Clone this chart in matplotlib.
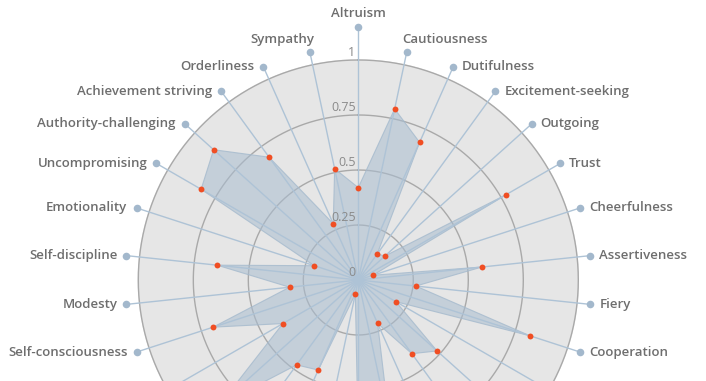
"""Radar chart: personality facet scores (30 axes, top part of the circle)."""

import numpy as np
import matplotlib.pyplot as plt

# axes, clockwise from the top
FACETS = [
    "Altruism", "Cautiousness", "Dutifulness", "Excitement-seeking",
    "Outgoing", "Trust", "Cheerfulness", "Assertiveness", "Fiery",
    "Cooperation", "Self-efficacy", "Imagination", "Intellect",
    "Gregariousness", "Activity level", "Adventurousness", "Melancholy",
    "Prone to worry", "Artistic interests", "Immoderation",
    "Susceptible to stress", "Self-consciousness", "Modesty",
    "Self-discipline", "Emotionality", "Uncompromising",
    "Authority-challenging", "Achievement striving", "Orderliness",
    "Sympathy",
]
SCORES = [
    0.42, 0.795, 0.685, 0.146,
    0.163, 0.776, 0.07, 0.565, 0.263,
    0.82, 0.197, 0.482, 0.414,
    0.216, 0.70, 0.75, 0.065,
    0.448, 0.477, 0.85,
    0.396, 0.694, 0.314,
    0.645, 0.21, 0.825,
    0.885, 0.69, 0.28,
    0.517,
]
RINGS = [0.25, 0.5, 0.75, 1.0]
RING_LABELS = ["0.25", "0.5", "0.75", "1"]

BG = "#e6e6e6"
RING_COLOR = "#a9a9a9"
SPOKE_COLOR = "#aec3d6"
FILL_COLOR = "#a9bdd0"
DOT_COLOR = "#f04e23"
LABEL_COLOR = "#6e6e6e"
FONT = ["Open Sans", "DejaVu Sans"]

W, H, DPI = 706, 381, 100
CX, CY = 358.3, 280.0   # centre in pixels (from top)
PX_PER_UNIT = 220.0
RMAX = 1.2

fig = plt.figure(figsize=(W / DPI, H / DPI), dpi=DPI)
rad_px = RMAX * PX_PER_UNIT
ax = fig.add_axes([(CX - rad_px) / W, (H - CY - rad_px) / H,
                   2 * rad_px / W, 2 * rad_px / H], projection="polar")
ax.set_theta_zero_location("N")
ax.set_theta_direction(-1)
ax.set_ylim(0, RMAX)
ax.set_axis_off()

n = len(FACETS)
theta = np.arange(n) * 2 * np.pi / n
full = np.linspace(0, 2 * np.pi, 361)

# background disk and rings
ax.fill_between(full, 0, 1.0, color=BG, zorder=0)
for r in RINGS:
    ax.plot(full, np.full_like(full, r), color=RING_COLOR, lw=1.0, zorder=1)

# data area
th_c = np.append(theta, theta[0])
sc_c = np.append(SCORES, SCORES[0])
ax.fill(th_c, sc_c, color=FILL_COLOR, alpha=0.55, lw=0, zorder=2)
ax.plot(th_c, sc_c, color="#a5bacd", lw=0.8, alpha=0.8, zorder=2)

# spokes with end markers and labels
for i, (t, name) in enumerate(zip(theta, FACETS)):
    r_end = 1.15 if i == 0 else 1.06
    ax.plot([t, t], [0, r_end], color=SPOKE_COLOR, lw=1.0, zorder=3)
    ax.scatter([t], [r_end], s=30, color="#a3b8cc", zorder=4, lw=0)
    # labels of the lower axes fall below the picture
    if CY - np.cos(t) * r_end * PX_PER_UNIT > H:
        continue
    deg = np.degrees(t)
    if i == 0:
        xy, ha, va = (0, 10), "center", "center"
    elif deg < 20:
        xy, ha, va = (-3, 9.2), "left", "center"
    elif deg > 340:
        xy, ha, va = (3, 9.2), "right", "center"
    elif deg < 180:
        xy, ha, va = (6.5, 0), "left", "center"
    else:
        xy, ha, va = (-6.5, 0), "right", "center"
    ax.annotate(name, (t, r_end), xytext=xy, textcoords="offset points",
                ha=ha, va=va, fontsize=9.5, color=LABEL_COLOR,
                family=FONT, fontweight="semibold", zorder=5,
                annotation_clip=False)

ax.scatter(theta, SCORES, s=18, color=DOT_COLOR, lw=0, zorder=6)

# radial tick labels along the top spoke
for r, lab in zip([0.0] + RINGS, ["0"] + RING_LABELS):
    ax.annotate(lab, (0, r), xytext=(-2, 0.5), textcoords="offset points",
                ha="right", va="bottom", fontsize=9, color="#8a8a8a",
                family=FONT, zorder=5)

fig.savefig("out.png", dpi=DPI)
